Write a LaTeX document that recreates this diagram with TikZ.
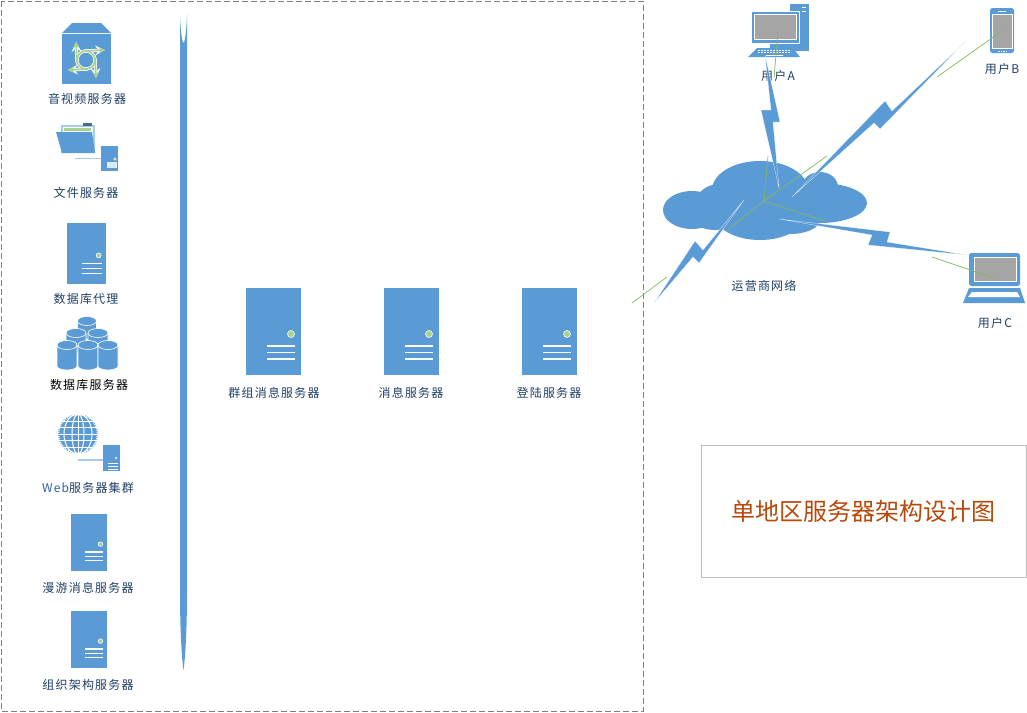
\documentclass[tikz,border=0pt]{standalone}
\usepackage{fontspec}
\setmainfont[LetterSpace=10]{Noto Sans CJK SC}
\newfontfamily\titlefont{Noto Sans CJK SC}
\definecolor{iconblue}{HTML}{5B9BD5}
\definecolor{paleblue}{HTML}{A9CBEA}
\definecolor{ledgreen}{HTML}{A9D18E}
\definecolor{wiregreen}{HTML}{82B85A}
\definecolor{screengray}{HTML}{A5A5A5}
\definecolor{labelblue}{HTML}{1F3F66}
\definecolor{webblue}{HTML}{2F5FA5}
\definecolor{titlerust}{HTML}{B8480A}
\tikzset{
  lbl/.style={font=\fontsize{12}{14}\selectfont, text=labelblue, inner sep=0pt, yshift=-0.7pt},
  wire/.style={wiregreen, line width=0.7pt},
  bolt/.style={fill=iconblue, draw=white, line width=0.2pt, line join=miter},
  serverpic/.pic={
    \fill[iconblue] (0,0) rectangle (55,87);
    \draw[fill=ledgreen, draw=white, line width=0.6pt] (45,46) circle (3.5);
    \foreach \ly in {58,64.5,71} \draw[white, line width=1.1pt] (21,\ly) -- (49,\ly);
  }
}
\begin{document}
\begin{tikzpicture}[x=1pt, y=-1pt]
  \useasboundingbox (0,0) rectangle (1027,712);

  % Dashed region and title
  \draw[gray, dash pattern=on 6pt off 3pt, line width=0.7pt] (1,1) rectangle (643,711);
  \node[draw=black!25, line width=0.8pt, minimum width=325pt, minimum height=132pt, inner sep=0pt, text=titlerust,
    font=\titlefont\fontsize{24}{28}\selectfont] (titlebox) at (863.5,511) {单地区服务器架构设计图};

  % Bus bar
  \fill[iconblue] (180,15) -- (180,590) .. controls (180,635) and (182,660) .. (183.5,670)
    .. controls (185,660) and (187,635) .. (187,590) -- (187,15)
    .. controls (186.5,30) and (185,42) .. (183.5,43) .. controls (182,42) and (180.5,30) .. (180,15) -- cycle;

  % Audio and video server
  \fill[iconblue] (62,33) -- (72,23) -- (101,23) -- (111,33) -- cycle;
  \fill[iconblue] (62,34) rectangle (111,84);
  \foreach \lw/\lc in {3.2pt/white, 1.7pt/ledgreen} {
    \draw[\lc, line width=\lw] (86,60) circle (9);
    \draw[\lc, line width=\lw, ->, >=stealth] (77,62) -- (76,42);
    \draw[\lc, line width=\lw, ->, >=stealth] (84,51) -- (105,50);
    \draw[\lc, line width=\lw, ->, >=stealth] (95,58) -- (96,78);
    \draw[\lc, line width=\lw, ->, >=stealth] (88,69) -- (68,70);
  }
  \node[lbl] (avlabel) at (87,98) {音视频服务器};

  % File server
  \fill[paleblue] (61,125) rectangle (95,153);
  \fill[iconblue!70!black] (83,123) rectangle (92,126);
  \fill[white] (63,127) rectangle (93,150);
  \fill[ledgreen] (64,128) rectangle (91,131);
  \fill[iconblue] (56,132) -- (92,132) -- (95,153) -- (62,153) -- cycle;
  \draw[paleblue, line width=1pt] (75,158) -- (101,158);
  \fill[iconblue] (101,146) rectangle (118,171);
  \fill[white!80!iconblue] (107,162) rectangle (117,168);
  \draw[fill=ledgreen, draw=white, line width=0.3pt] (115,159) circle (1.3);
  \node[lbl] (filelabel) at (86,192) {文件服务器};

  % Servers along the bar
  \pic[scale=0.705] at (67,223) {serverpic};
  \node[lbl] (proxylabel) at (86,298) {数据库代理};
  \pic[scale=0.655] at (71,514) {serverpic};
  \node[lbl] (roamlabel) at (88,587) {漫游消息服务器};
  \pic[scale=0.655] at (71,611) {serverpic};
  \node[lbl] (orglabel) at (88,684) {组织架构服务器};

  % Database stack
  \foreach \cx/\cy/\cb/\cr in {87/321/338/9.5, 76/333/352/10, 98/333/352/10, 67/345/369/10, 88/345/369/10, 108/345/369/10} {
    \draw[fill=iconblue, draw=white, line width=0.6pt] (\cx-\cr,\cy) -- (\cx-\cr,\cb-3) arc[start angle=180, end angle=360, x radius=\cr, y radius=-4]
      -- (\cx+\cr,\cy) arc[start angle=0, end angle=180, x radius=\cr, y radius=-4.5] -- cycle;
    \draw[white, line width=0.6pt] (\cx-\cr,\cy) arc[start angle=180, end angle=360, x radius=\cr, y radius=-4.5];
  }
  \node[lbl, text=black] (dblabel) at (89,384) {数据库服务器};

  % Web servers
  \fill[iconblue] (78,434) circle (20);
  \begin{scope}
    \clip (78,434) circle (20);
    \foreach \gy in {-13,-6.5,0,6.5,13} \draw[white, line width=1pt] (58,434+\gy) -- (98,434+\gy);
    \foreach \gr in {6,14} \draw[white, line width=1pt] (78,434) ellipse ({\gr} and 20);
    \draw[white, line width=1pt] (78,414) -- (78,454);
  \end{scope}
  \draw[white, line width=1.6pt, dash pattern=on 1pt off 1pt] (78,434) circle (19.5);
  \draw[paleblue, line width=1.2pt] (78,460) -- (103,460);
  \fill[iconblue] (103,445) rectangle (120,471);
  \fill[white] (116,458) circle (1.1);
  \foreach \ly in {463,466,469} \draw[white, line width=0.7pt] (108,\ly) -- (118,\ly);
  \node[lbl] (weblabel) at (88,487) {{\color{webblue}Web}服务器集群};

  % Middle servers
  \foreach \sx in {246,384,522} \pic at (\sx,288) {serverpic};
  \node[lbl] (grouplabel) at (274,392) {群组消息服务器};
  \node[lbl] (msglabel) at (411,392) {消息服务器};
  \node[lbl] (loginlabel) at (549,392) {登陆服务器};

  % Carrier cloud
  \foreach \ex/\ey/\erx/\ery in {692/210/29/19, 725/200/28/17, 715/215/25/15, 760/190/48/29, 760/215/45/25, 790/220/30/14, 820/187/18/15, 820/203/47/20}
    \fill[iconblue] (\ex,\ey) ellipse ({\erx} and {\ery});
  \node[lbl] (cloudlabel) at (764,285) {运营商网络};

  % User A, desktop
  \fill[iconblue] (790,4) rectangle (809,51);
  \foreach \ly in {7,11} \draw[white, line width=1pt] (802,\ly) -- (806,\ly);
  \fill[iconblue] (770,43) rectangle (790,48);
  \fill[iconblue] (757,48) -- (793,48) -- (800,57) -- (748,57) -- cycle;
  \foreach \ky in {50,52.5} \draw[white, line width=0.8pt, dash pattern=on 2pt off 1pt] (758,\ky) -- (791,\ky);
  \draw[white, line width=0.8pt] (766,55) -- (783,55);
  \draw[fill=iconblue, draw=white, line width=0.8pt] (751,11) rectangle (799,43);
  \draw[fill=screengray, draw=white, line width=0.8pt] (754,14) rectangle (796,39);
  \node[lbl] (usera) at (778,75) {用户A};

  % User B, phone
  \fill[iconblue, rounded corners=2.5pt] (990,8) rectangle (1014,53);
  \draw[fill=screengray, draw=white, line width=0.5pt] (992,14) rectangle (1012,48);
  \draw[white, line width=0.8pt] (998,11) -- (1006,11);
  \draw[white, line width=0.8pt, dash pattern=on 1.5pt off 1pt] (998,51) -- (1006,51);
  \node[lbl] (userb) at (1002,68) {用户B};

  % User C, laptop
  \fill[iconblue, rounded corners=2.5pt] (969,286) -- (969,253) -- (1020,253) -- (1020,286) -- cycle;
  \draw[fill=screengray, draw=white, line width=0.8pt] (974,257) rectangle (1016,281);
  \fill[iconblue] (969,288) -- (1020,288) -- (1025,303) -- (963,303) -- cycle;
  \fill[white] (972,292) -- (1017,292) -- (1020,297) -- (968,297) -- cycle;
  \node[lbl] (userc) at (995,322) {用户C};

  % Lightning links
  \path[bolt] (779,188) -- (761,110) -- (771,110) -- (765,55) -- (780,122) -- (773,122) -- cycle;
  \path[bolt] (792,197) -- (885,101) -- (892,111) -- (965,42) -- (880,129) -- (874,123) -- cycle;
  \path[bolt] (744,200) -- (703,250) -- (695,241) -- (654,303) -- (693,257) -- (699,263) -- cycle;
  \path[bolt] (779,219) -- (890,232) -- (887,242) -- (967,255) -- (868,245) -- (872,235) -- cycle;

  % Green wires
  \coordinate (hub) at (764,201);
  \coordinate (hubn) at (768,156);
  \coordinate (hubne) at (827,156);
  \coordinate (hubse) at (825,221);
  \coordinate (hubsw) at (727,230);
  \draw[wire] (hub) -- (hubn);
  \draw[wire] (hub) -- (hubne);
  \draw[wire] (hub) -- (hubse);
  \draw[wire] (hub) -- (hubsw);
  \coordinate (screena) at (778,31);
  \coordinate (enda) at (774,78);
  \draw[wire] (screena) -- (enda);
  \coordinate (screenb) at (1002,31);
  \coordinate (endb) at (937,77);
  \draw[wire] (screenb) -- (endb);
  \coordinate (screenc) at (994,278);
  \coordinate (endc) at (932,257);
  \draw[wire] (screenc) -- (endc);
  \coordinate (framein) at (667,277);
  \coordinate (frameout) at (632,303);
  \draw[wire] (framein) -- (frameout);
\end{tikzpicture}
\end{document}
